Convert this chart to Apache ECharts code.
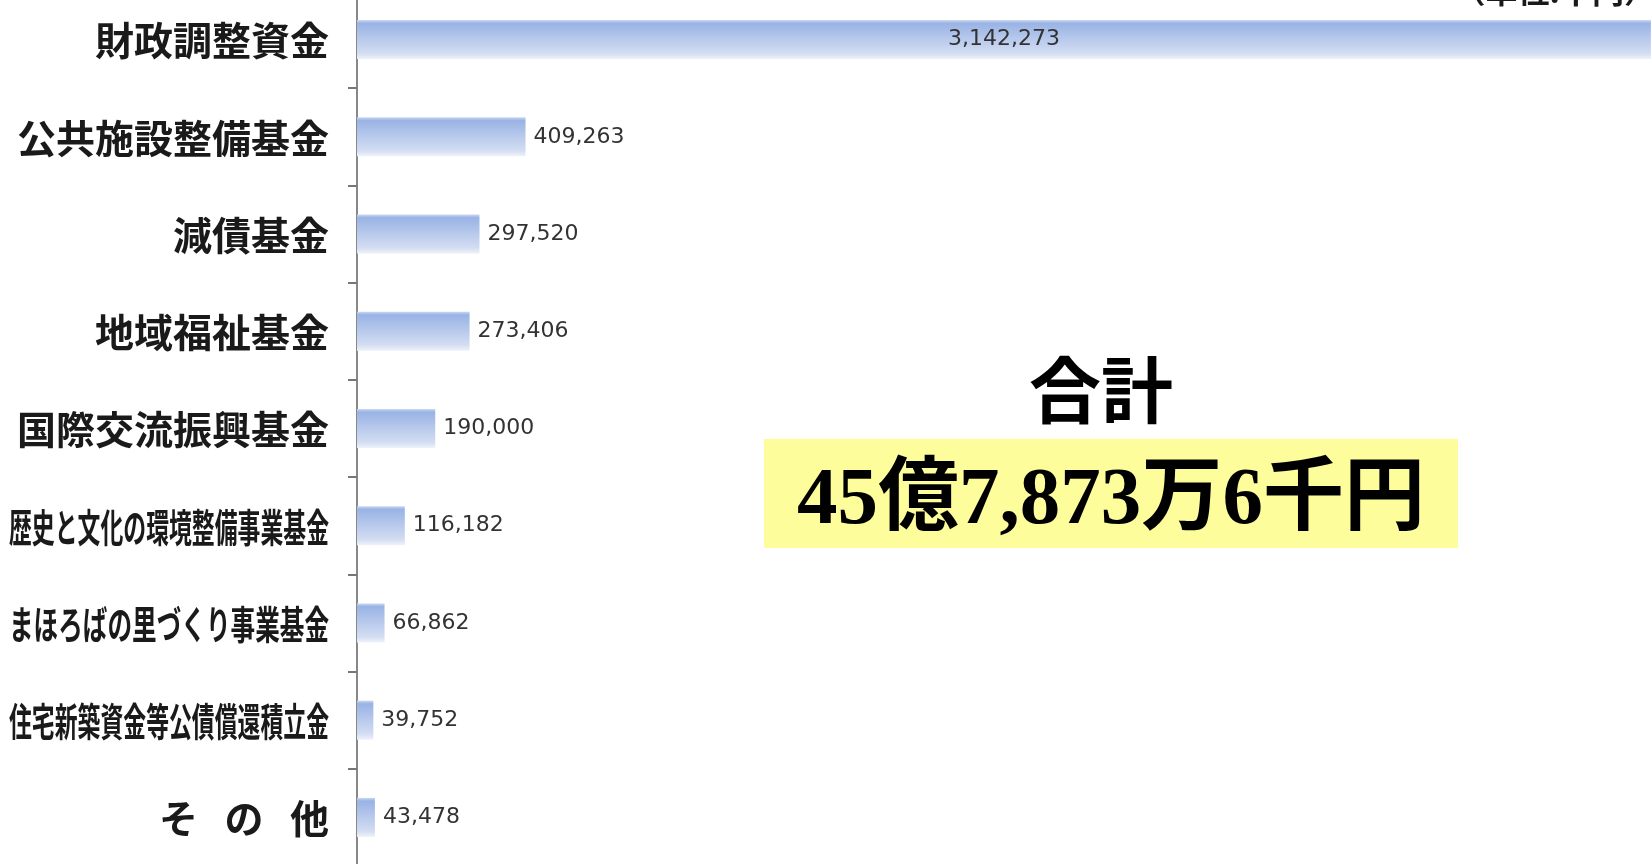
<!DOCTYPE html>
<html>
<head>
<meta charset="utf-8">
<script src="https://cdn.jsdelivr.net/npm/echarts@6/dist/echarts.min.js"></script>
<style>
    html, body { margin: 0; padding: 0; background: #fff; }
    #main { width: 1652px; height: 864px; }
</style>
</head>
<body>
<div id="main"></div>
<script>
// 基金の名前（上から順に）
var categories = ['財政調整資金', '公共施設整備基金', '減債基金', '地域福祉基金', '国際交流振興基金',
    '歴史と文化の環境整備事業基金', 'まほろばの里づくり事業基金', '住宅新築資金等公債償還積立金', 'そ   の   他'];
// 残高（千円）
var values = [3142273, 409263, 297520, 273406, 190000, 116182, 66862, 39752, 43478];
// 合計
var totalTitle = '合計';
var totalText = '45億7,873万6千円';
var unitText = '（単位:千円）';

(function() {
    var myChart = echarts.init(document.getElementById('main'));

    // 一番長い棒だけラベルを棒の中に出す
    var data = values.map(function(v, i) {
        var item = { value: v };
        if (i === 0) {
            item.label = { position: 'inside' };
        }
        return item;
    });

    // 項目名は長いものを横に詰めて描く（軸の座標から位置を取る）
    var labelFont = 'bold 39px "Noto Sans CJK JP"';
    var longWidth = 320;
    function renderName(params, api) {
        var idx = api.value(1);
        var p = api.coord([0, idx]);
        var name = categories[idx];
        var sx = 1;
        if (name.length > 10) {
            sx = longWidth / (name.length * 39);
        }
        return {
            type: 'text',
            x: p[0] - 28,
            y: p[1] + 1,
            scaleX: sx,
            style: {
                text: name,
                font: labelFont,
                fill: '#1a1a1a',
                textAlign: 'right',
                textVerticalAlign: 'middle'
            }
        };
    }

    var option = {
        animation: false,
        backgroundColor: '#fff',
        grid: {
            left: 357,
            top: -9,
            height: 875,
            right: 0,
            outerBoundsMode: 'none'
        },
        xAxis: {
            type: 'value',
            min: 0,
            max: 3145000,
            show: false
        },
        yAxis: {
            type: 'category',
            inverse: true,
            data: categories,
            axisLine: {
                lineStyle: { color: '#888', width: 2 }
            },
            axisTick: {
                show: true,
                interval: 0,
                length: 9,
                lineStyle: { color: '#777', width: 2 }
            },
            axisLabel: { show: false }
        },
        series: [{
            type: 'bar',
            data: data,
            barWidth: 39,
            itemStyle: {
                color: {
                    type: 'linear',
                    x: 0, y: 0, x2: 0, y2: 1,
                    colorStops: [
                        { offset: 0, color: '#cbd8f1' },
                        { offset: 0.08, color: '#99b3e5' },
                        { offset: 0.85, color: '#d3ddf2' },
                        { offset: 1, color: '#eef2fa' }
                    ]
                }
            },
            label: {
                show: true,
                position: 'right',
                distance: 8,
                fontSize: 22,
                color: '#333',
                fontFamily: '"DejaVu Sans", sans-serif',
                formatter: function(p) {
                    return p.value.toLocaleString('en-US');
                }
            }
        }, {
            type: 'custom',
            clip: false,
            silent: true,
            data: categories.map(function(c, i) { return [0, i]; }),
            encode: { x: 0, y: 1 },
            renderItem: renderName
        }],
        graphic: [{
            type: 'text',
            right: -4,
            top: -25,
            style: {
                text: unitText,
                fill: '#1a1a1a',
                font: 'bold 32px "Noto Sans CJK JP"'
            }
        }, {
            type: 'text',
            x: 1101,
            y: 398,
            style: {
                text: totalTitle,
                fill: '#000',
                font: 'bold 72px "Liberation Serif", "Noto Sans CJK JP"',
                textAlign: 'center',
                textVerticalAlign: 'middle'
            }
        }, {
            type: 'rect',
            shape: { x: 764, y: 439, width: 694, height: 109 },
            style: { fill: '#fdfd9b' }
        }, {
            type: 'text',
            x: 1111,
            y: 502,
            style: {
                text: totalText,
                fill: '#000',
                font: 'bold 81px "Liberation Serif", "Noto Sans CJK JP"',
                textAlign: 'center',
                textVerticalAlign: 'middle'
            }
        }]
    };

    myChart.setOption(option);
    window.addEventListener('resize', function() {
        myChart.resize();
    });
})();
</script>
</body>
</html>
